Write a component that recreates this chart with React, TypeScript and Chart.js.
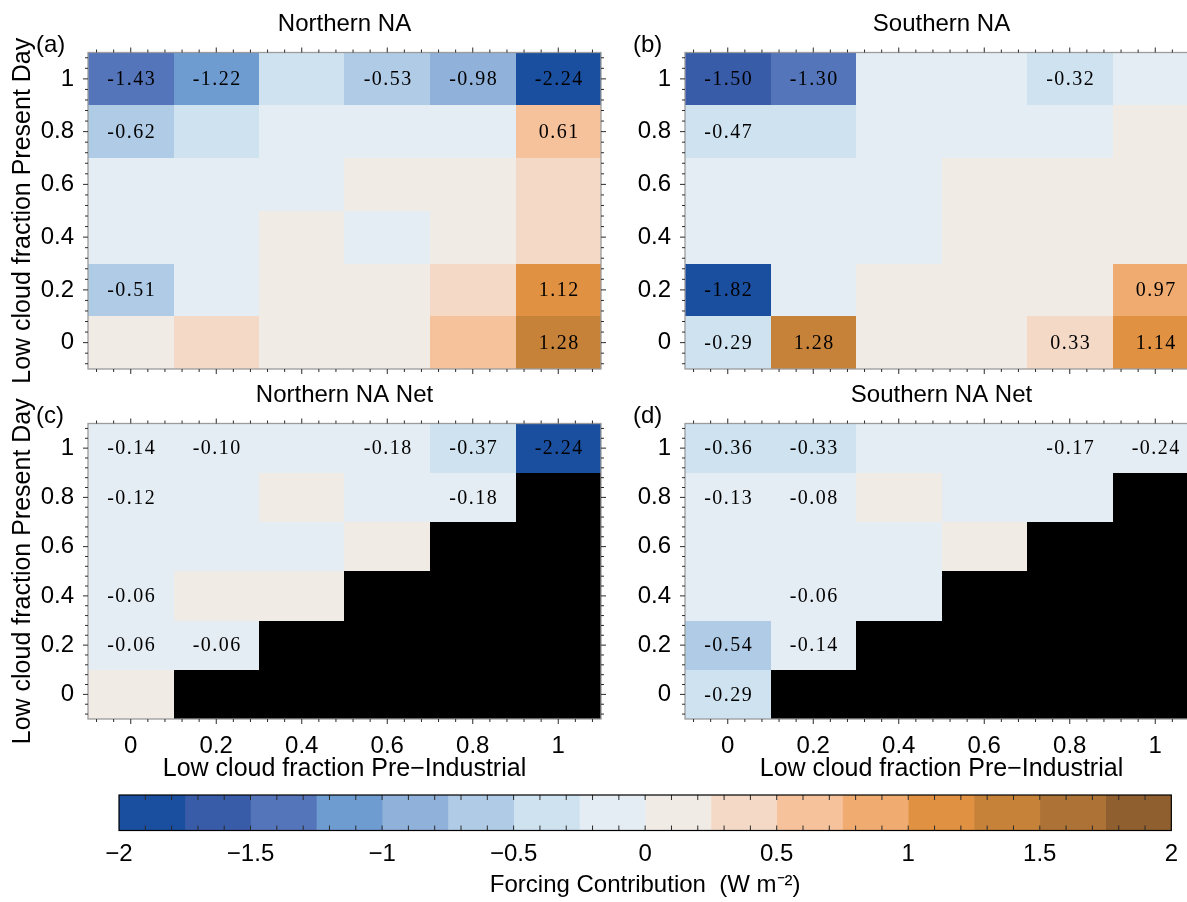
import { useEffect, useRef } from "react";
import { Chart, registerables } from "chart.js";

Chart.register(...registerables);

// ---------------- data ----------------
const PI_LEVELS = [0, 0.2, 0.4, 0.6, 0.8, 1]; // x: low cloud fraction pre-industrial (columns)
const PD_LEVELS = [1, 0.8, 0.6, 0.4, 0.2, 0]; // y: low cloud fraction present day (rows, top to bottom)
const AXIS_TICKS = [0, 0.2, 0.4, 0.6, 0.8, 1];
const AXIS_TICK_LABELS = ["0", "0.2", "0.4", "0.6", "0.8", "1"];

const BIN_EDGES = [-2, -1.75, -1.5, -1.25, -1, -0.75, -0.5, -0.25, 0, 0.25, 0.5, 0.75, 1, 1.25, 1.5, 1.75, 2];
const BIN_COLORS = [
  "#1a4e9f", "#385ca8", "#5475b9", "#6e9bd0", "#8fb1da", "#b0cbe6", "#cfe2f0", "#e5edf4",
  "#f1ebe5", "#f4d9c6", "#f6c29c", "#f0ac70", "#e09141", "#c7823a", "#ad7235", "#8f5f2f",
];
const CB_TICKS = [-2, -1.5, -1, -0.5, 0, 0.5, 1, 1.5, 2];
const CB_TICK_LABELS = ["\u22122", "\u22121.5", "\u22121", "\u22120.5", "0", "0.5", "1", "1.5", "2"];

const NORTH_VALUES = [
  [-1.43, -1.22, -0.38, -0.53, -0.98, -2.24],
  [-0.62, -0.34, -0.12, -0.1, -0.08, 0.61],
  [-0.08, -0.1, -0.05, 0.05, 0.08, 0.36],
  [-0.06, -0.09, 0.04, -0.05, 0.1, 0.38],
  [-0.51, -0.12, 0.06, 0.07, 0.33, 1.12],
  [0.09, 0.31, 0.05, 0.08, 0.62, 1.28],
];
const NORTH_SHOW = [
  [1, 1, 0, 1, 1, 1],
  [1, 0, 0, 0, 0, 1],
  [0, 0, 0, 0, 0, 0],
  [0, 0, 0, 0, 0, 0],
  [1, 0, 0, 0, 0, 1],
  [0, 0, 0, 0, 0, 1],
];

const SOUTH_VALUES = [
  [-1.504, -1.3, -0.1, -0.12, -0.32, -0.15],
  [-0.47, -0.3, -0.1, -0.08, -0.12, 0.08],
  [-0.09, -0.11, -0.06, 0.05, 0.07, 0.1],
  [-0.07, -0.1, -0.05, 0.04, 0.06, 0.12],
  [-1.82, -0.14, 0.06, 0.05, 0.09, 0.97],
  [-0.29, 1.28, 0.08, 0.07, 0.33, 1.14],
];
const SOUTH_SHOW = [
  [1, 1, 0, 0, 1, 0],
  [1, 0, 0, 0, 0, 0],
  [0, 0, 0, 0, 0, 0],
  [0, 0, 0, 0, 0, 0],
  [1, 0, 0, 0, 0, 1],
  [1, 1, 0, 0, 1, 1],
];

const NORTH_NET_VALUES = [
  [-0.14, -0.1, -0.08, -0.18, -0.37, -2.24],
  [-0.12, -0.07, 0.05, -0.09, -0.18, null],
  [-0.05, -0.08, -0.04, 0.03, null, null],
  [-0.06, 0.04, 0.05, null, null, null],
  [-0.06, -0.06, null, null, null, null],
  [0.03, null, null, null, null, null],
];
const NORTH_NET_SHOW = [
  [1, 1, 0, 1, 1, 1],
  [1, 0, 0, 0, 1, 0],
  [0, 0, 0, 0, 0, 0],
  [1, 0, 0, 0, 0, 0],
  [1, 1, 0, 0, 0, 0],
  [0, 0, 0, 0, 0, 0],
];

const SOUTH_NET_VALUES = [
  [-0.36, -0.33, -0.12, -0.1, -0.17, -0.24],
  [-0.13, -0.08, 0.04, -0.07, -0.09, null],
  [-0.05, -0.07, -0.06, 0.05, null, null],
  [-0.04, -0.06, -0.05, null, null, null],
  [-0.54, -0.14, null, null, null, null],
  [-0.29, null, null, null, null, null],
];
const SOUTH_NET_SHOW = [
  [1, 1, 0, 0, 1, 1],
  [1, 1, 0, 0, 0, 0],
  [0, 0, 0, 0, 0, 0],
  [0, 1, 0, 0, 0, 0],
  [1, 1, 0, 0, 0, 0],
  [1, 0, 0, 0, 0, 0],
];

const PANEL_TITLES = ["Northern NA", "Southern NA", "Northern NA Net", "Southern NA Net"];
const PANEL_TAGS = ["(a)", "(b)", "(c)", "(d)"];
const X_TITLE = "Low cloud fraction Pre\u2212Industrial";
const Y_TITLE = "Low cloud fraction Present Day";
const CB_TITLE = "Forcing Contribution  (W m\u207B\u00B2)";

// ---------------- layout / style ----------------
const PAGE_W = 1187;
const PAGE_H = 902;
const CANVAS_W = 1220;
const SANS = '"Liberation Sans", Arial, Helvetica, sans-serif';
const SERIF = '"Liberation Serif", "Times New Roman", serif';
const YW = 80;
const XH = 70;
const TITLE_FONT = 24;

type Panel = {
  title: string; tag: string; values: (number | null)[][]; show: number[][];
  L: number; T: number; R: number; B: number; titleY: number; showX: boolean; showYTitle: boolean;
};

const PANELS: Panel[] = [
  { title: PANEL_TITLES[0], tag: PANEL_TAGS[0], values: NORTH_VALUES, show: NORTH_SHOW, L: 88, T: 52.5, R: 601, B: 369, titleY: 24, showX: false, showYTitle: true },
  { title: PANEL_TITLES[1], tag: PANEL_TAGS[1], values: SOUTH_VALUES, show: SOUTH_SHOW, L: 685, T: 52.5, R: 1198, B: 369, titleY: 24, showX: false, showYTitle: false },
  { title: PANEL_TITLES[2], tag: PANEL_TAGS[2], values: NORTH_NET_VALUES, show: NORTH_NET_SHOW, L: 88, T: 423.5, R: 601, B: 719, titleY: 395, showX: true, showYTitle: true },
  { title: PANEL_TITLES[3], tag: PANEL_TAGS[3], values: SOUTH_NET_VALUES, show: SOUTH_NET_SHOW, L: 685, T: 423.5, R: 1198, B: 719, titleY: 395, showX: true, showYTitle: false },
];

const CB = { L: 119, T: 795, R: 1176, B: 830.5 };

function colorFor(v: number): string {
  for (let i = 0; i < BIN_COLORS.length; i++) {
    if (v < BIN_EDGES[i + 1]) return BIN_COLORS[i];
  }
  return BIN_COLORS[BIN_COLORS.length - 1];
}

type Cell = { x: number; y: number; v: number | null; show: boolean };

function buildCells(values: (number | null)[][], show: number[][]): Cell[] {
  const cells: Cell[] = [];
  PD_LEVELS.forEach((yv, r) => {
    PI_LEVELS.forEach((xv, c) => {
      cells.push({ x: xv, y: yv, v: values[r][c], show: show[r][c] === 1 });
    });
  });
  return cells;
}

const HALF_X = (PI_LEVELS[1] - PI_LEVELS[0]) / 2;
const HALF_Y = (PD_LEVELS[0] - PD_LEVELS[1]) / 2;

const heatmapPlugin = {
  id: "heatCells",
  beforeDatasetsDraw(chart: any) {
    const { ctx } = chart;
    const x = chart.scales.x;
    const y = chart.scales.y;
    const cells = chart.data.datasets[0].data as Cell[];
    ctx.save();
    for (const c of cells) {
      const x0 = Math.round(x.getPixelForValue(c.x - HALF_X));
      const x1 = Math.round(x.getPixelForValue(c.x + HALF_X));
      const y0 = Math.round(y.getPixelForValue(c.y + HALF_Y));
      const y1 = Math.round(y.getPixelForValue(c.y - HALF_Y));
      ctx.fillStyle = c.v === null ? "#000000" : colorFor(c.v);
      ctx.fillRect(x0, y0, x1 - x0, y1 - y0);
    }
    ctx.font = `20px ${SERIF}`;
    ctx.textAlign = "center";
    ctx.textBaseline = "middle";
    ctx.fillStyle = "#000";
    (ctx as any).letterSpacing = "1.5px";
    for (const c of cells) {
      if (!c.show || c.v === null) continue;
      ctx.fillText(c.v.toFixed(2), x.getPixelForValue(c.x) + 1, y.getPixelForValue(c.y) + 1);
    }
    ctx.restore();
  },
};

const framePlugin = {
  id: "frameTicks",
  afterDatasetsDraw(chart: any) {
    const { ctx, chartArea: a } = chart;
    const x = chart.scales.x;
    const y = chart.scales.y;
    ctx.save();
    ctx.strokeStyle = "#9c9c9c";
    ctx.lineWidth = 1.3;
    ctx.strokeRect(a.left, a.top, a.right - a.left, a.bottom - a.top);
    ctx.strokeStyle = "#2a2a2a";
    ctx.lineWidth = 1;
    ctx.beginPath();
    for (let k = -2; k <= 27; k++) {
      const v = k * 0.04;
      const len = k % 5 === 0 ? 5 : 3;
      const px = x.getPixelForValue(v);
      ctx.moveTo(px, a.top);
      ctx.lineTo(px, a.top - len);
      ctx.moveTo(px, a.bottom);
      ctx.lineTo(px, a.bottom + len);
      const py = y.getPixelForValue(v);
      ctx.moveTo(a.left, py);
      ctx.lineTo(a.left - len, py);
      ctx.moveTo(a.right, py);
      ctx.lineTo(a.right + len, py);
    }
    ctx.stroke();
    ctx.restore();
  },
  afterDraw(chart: any, _args: any, opts: any) {
    const { ctx, chartArea: a } = chart;
    ctx.save();
    ctx.font = `24px ${SANS}`;
    ctx.fillStyle = "#000";
    ctx.textAlign = "left";
    ctx.textBaseline = "middle";
    ctx.fillText(opts.tag, a.left - 52, a.top - 7);
    ctx.restore();
  },
};

function panelConfig(p: Panel): any {
  const cells = buildCells(p.values, p.show);
  const titlePadBottom = p.T - p.titleY - (TITLE_FONT * 1.2) / 2;
  return {
    type: "scatter",
    data: { datasets: [{ data: cells, pointRadius: 0, pointHoverRadius: 0 }] },
    options: {
      animation: false,
      responsive: false,
      devicePixelRatio: 1,
      events: [],
      layout: {
        padding: {
          left: p.L - YW,
          right: CANVAS_W - p.R,
          top: p.titleY - (TITLE_FONT * 1.2) / 2,
          bottom: PAGE_H - p.B - XH,
        },
      },
      plugins: {
        legend: { display: false },
        tooltip: { enabled: false },
        title: {
          display: true,
          text: p.title,
          fullSize: false,
          color: "#000",
          font: { family: SANS, size: TITLE_FONT, weight: "normal" },
          padding: { top: 0, bottom: titlePadBottom },
        },
        frameTicks: { tag: p.tag },
      },
      scales: {
        x: {
          type: "linear",
          min: -0.1,
          max: 1.1,
          bounds: "data",
          position: "bottom",
          afterBuildTicks: (s: any) => { s.ticks = AXIS_TICKS.map((v) => ({ value: v })); },
          afterFit: (s: any) => { s.height = XH; },
          grid: { display: false, drawTicks: false },
          border: { display: false },
          ticks: {
            display: p.showX,
            autoSkip: false,
            maxRotation: 0,
            padding: 13,
            color: "#000",
            font: { family: SANS, size: 24 },
            callback: (v: number) => AXIS_TICK_LABELS[AXIS_TICKS.indexOf(v)],
          },
          title: {
            display: p.showX,
            text: X_TITLE,
            color: "#000",
            font: { family: SANS, size: 25 },
            padding: { top: 0, bottom: 5 },
          },
        },
        y: {
          type: "linear",
          min: -0.1,
          max: 1.1,
          bounds: "data",
          position: "left",
          afterBuildTicks: (s: any) => { s.ticks = AXIS_TICKS.map((v) => ({ value: v })); },
          afterFit: (s: any) => { s.width = YW; },
          grid: { display: false, drawTicks: false },
          border: { display: false },
          ticks: {
            autoSkip: false,
            padding: 14,
            color: "#000",
            font: { family: SANS, size: 24 },
            callback: (v: number) => AXIS_TICK_LABELS[AXIS_TICKS.indexOf(v)],
          },
          title: {
            display: p.showYTitle,
            text: Y_TITLE,
            color: "#000",
            font: { family: SANS, size: 25 },
            padding: { top: 0, bottom: 0 },
          },
        },
      },
    },
    plugins: [heatmapPlugin, framePlugin],
  };
}

const colorbarPlugin = {
  id: "cbFrame",
  afterDatasetsDraw(chart: any) {
    const { ctx, chartArea: a } = chart;
    const x = chart.scales.x;
    ctx.save();
    ctx.strokeStyle = "#2a2a2a";
    ctx.lineWidth = 1;
    ctx.beginPath();
    for (let k = -19; k <= 19; k++) {
      const px = x.getPixelForValue(k / 10);
      ctx.moveTo(px, a.top);
      ctx.lineTo(px, a.top + 5);
      ctx.moveTo(px, a.bottom);
      ctx.lineTo(px, a.bottom - 5);
    }
    ctx.stroke();
    ctx.strokeStyle = "#000";
    ctx.lineWidth = 1.2;
    ctx.strokeRect(a.left, a.top, a.right - a.left, a.bottom - a.top);
    ctx.restore();
  },
};

function colorbarConfig(): any {
  const CBH = 70;
  return {
    type: "bar",
    data: {
      labels: ["bins"],
      datasets: BIN_COLORS.map((c, i) => ({
        data: [[BIN_EDGES[i], BIN_EDGES[i + 1]]],
        backgroundColor: c,
        borderWidth: 0,
        barPercentage: 1,
        categoryPercentage: 1,
        grouped: false,
      })),
    },
    options: {
      indexAxis: "y",
      animation: false,
      responsive: false,
      devicePixelRatio: 1,
      events: [],
      layout: { padding: { left: CB.L, right: PAGE_W - CB.R, top: CB.T, bottom: PAGE_H - CB.B - CBH } },
      plugins: { legend: { display: false }, tooltip: { enabled: false } },
      scales: {
        x: {
          type: "linear",
          min: -2,
          max: 2,
          bounds: "data",
          position: "bottom",
          afterBuildTicks: (s: any) => { s.ticks = CB_TICKS.map((v) => ({ value: v })); },
          afterFit: (s: any) => { s.height = CBH; },
          grid: { display: false, drawTicks: false },
          border: { display: false },
          ticks: {
            autoSkip: false,
            maxRotation: 0,
            padding: 9,
            color: "#000",
            font: { family: SANS, size: 24 },
            callback: (v: number) => CB_TICK_LABELS[CB_TICKS.indexOf(v)],
          },
          title: {
            display: true,
            text: CB_TITLE,
            color: "#000",
            font: { family: SANS, size: 24 },
            padding: { top: 0, bottom: 1 },
          },
        },
        y: { display: false },
      },
    },
    plugins: [colorbarPlugin],
  };
}

export default function App() {
  const canvases = useRef<(HTMLCanvasElement | null)[]>([]);
  const cbCanvas = useRef<HTMLCanvasElement | null>(null);

  useEffect(() => {
    const charts: Chart[] = [];
    PANELS.forEach((p, i) => {
      const el = canvases.current[i];
      if (el) charts.push(new Chart(el, panelConfig(p)));
    });
    if (cbCanvas.current) charts.push(new Chart(cbCanvas.current, colorbarConfig()));
    return () => charts.forEach((c) => c.destroy());
  }, []);

  const canvasStyle = (w: number): React.CSSProperties => ({
    position: "absolute", left: 0, top: 0, width: w, height: PAGE_H,
  });

  return (
    <div style={{ position: "absolute", left: 0, top: 0, width: PAGE_W, height: PAGE_H, overflow: "hidden", background: "#fff" }}>
      {PANELS.map((p, i) => (
        <canvas
          key={p.tag}
          ref={(el) => { canvases.current[i] = el; }}
          width={CANVAS_W}
          height={PAGE_H}
          style={canvasStyle(CANVAS_W)}
        />
      ))}
      <canvas ref={cbCanvas} width={PAGE_W} height={PAGE_H} style={canvasStyle(PAGE_W)} />
    </div>
  );
}
